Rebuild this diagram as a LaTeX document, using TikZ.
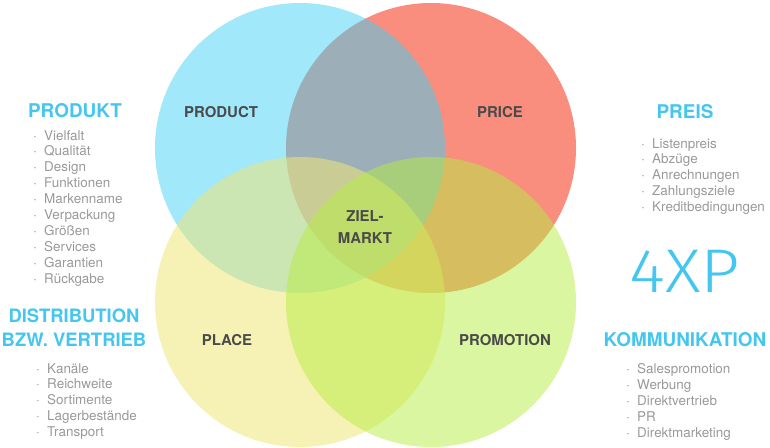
\documentclass[tikz,border=0pt]{standalone}
\usepackage{fontspec}
\setmainfont{TeX Gyre Heros}
\newfontfamily\thinfont{Fira Sans Light}
\usetikzlibrary{positioning}
\definecolor{pricered}{HTML}{F98E7E}
\definecolor{productblue}{HTML}{41D1F5}
\definecolor{placeyellow}{HTML}{EFE678}
\definecolor{promogreen}{HTML}{B5ED41}
\definecolor{headblue}{HTML}{45C6F0}
\definecolor{namegray}{HTML}{4A4A4A}
\definecolor{listgray}{HTML}{999999}
\newcommand{\itm}[1]{\makebox[11bp][l]{·}#1}

\begin{document}
\begin{tikzpicture}[x=1bp,y=-1bp,
  circlename/.style={font=\bfseries\fontsize{15}{22}\selectfont, text=namegray, align=center},
  heading/.style={font=\bfseries\fontsize{19}{24}\selectfont, text=headblue, align=center},
  itemlist/.style={font=\fontsize{13.5}{16}\selectfont, text=listgray, align=left, anchor=north west, inner sep=0pt}]
\useasboundingbox (0,0) rectangle (770,448);
\fill[pricered](431,148) circle[radius=145];
\fill[productblue, opacity=0.5](300,148) circle[radius=145];
\fill[placeyellow, opacity=0.55](300,302) circle[radius=145];
\fill[promogreen, opacity=0.5](431,302) circle[radius=145];
\node[circlename] (product) at (221,112) {PRODUCT};
\node[circlename] (price) at (500,112) {PRICE};
\node[circlename] (place) at (227,340) {PLACE};
\node[circlename] (promotion) at (505,340) {PROMOTION};
\node[circlename] (zielmarkt) at (365,227) {ZIEL-\\MARKT};
\node[heading] (produkt) at (75,111) {PRODUKT};
\node[heading, font=\bfseries\fontsize{18.5}{24}\selectfont] (distribution) at (74,328) {DISTRIBUTION\\BZW. VERTRIEB};
\node[heading] (preis) at (685,112) {PREIS};
\node[heading] (kommunikation) at (685,340) {KOMMUNIKATION};
\node[font=\thinfont\fontsize{62}{62}\selectfont, text=headblue, xscale=1.12] (xp) at (685,271) {4XP};
\node[itemlist] (produktlist) at (33,130) {\itm{Vielfalt}\\\itm{Qualität}\\\itm{Design}\\\itm{Funktionen}\\\itm{Markenname}\\\itm{Verpackung}\\\itm{Größen}\\\itm{Services}\\\itm{Garantien}\\\itm{Rückgabe}};
\node[itemlist] (distributionlist) at (36,363) {\itm{Kanäle}\\\itm{Reichweite}\\\itm{Sortimente}\\\itm{Lagerbestände}\\\itm{Transport}};
\node[itemlist] (preislist) at (641,138) {\itm{Listenpreis}\\\itm{Abzüge}\\\itm{Anrechnungen}\\\itm{Zahlungsziele}\\\itm{Kreditbedingungen}};
\node[itemlist] (kommunikationlist) at (626,363) {\itm{Salespromotion}\\\itm{Werbung}\\\itm{Direktvertrieb}\\\itm{PR}\\\itm{Direktmarketing}};
\end{tikzpicture}
\end{document}
